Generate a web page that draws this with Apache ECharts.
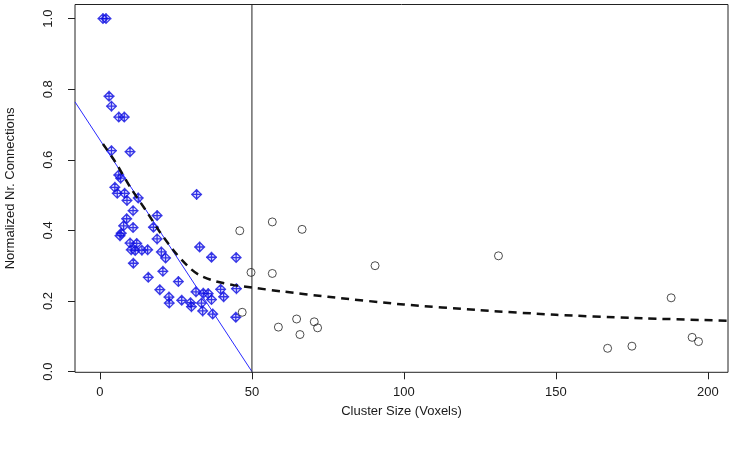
<!DOCTYPE html>
<html>
<head>
<meta charset="utf-8">
<script src="https://cdn.jsdelivr.net/npm/echarts@6/dist/echarts.min.js"></script>
<style>html,body{margin:0;padding:0;background:#fff;}#c{width:734px;height:452px;}</style>
</head>
<body>
<div id="c"></div>
<script>
// ---- data ----
const xTicks = [0, 50, 100, 150, 200];
const yTicks = [0.0, 0.2, 0.4, 0.6, 0.8, 1.0];
const xTitle = 'Cluster Size (Voxels)';
const yTitle = 'Normalized Nr. Connections';

// small clusters (blue diamond-plus markers)
const smallClusters = [
  [1, 1.0], [2, 1.0],
  [3.0, 0.78], [3.8, 0.752], [6.2, 0.721], [8.0, 0.721],
  [3.8, 0.626], [9.9, 0.623],
  [6.2, 0.557], [6.8, 0.548],
  [4.9, 0.522], [5.7, 0.505], [8.1, 0.505], [8.9, 0.485], [12.6, 0.492],
  [10.9, 0.456], [18.8, 0.442], [8.8, 0.433],
  [7.8, 0.413], [10.9, 0.408], [7.0, 0.392], [6.6, 0.385],
  [17.6, 0.409], [18.8, 0.376],
  [9.9, 0.364], [12.1, 0.363],
  [10.3, 0.345], [11.6, 0.343], [13.8, 0.344], [15.7, 0.345],
  [20.2, 0.339], [21.6, 0.322],
  [11.0, 0.307],
  [20.7, 0.284], [15.9, 0.267], [25.8, 0.255],
  [19.7, 0.232], [22.7, 0.211], [22.8, 0.194],
  [26.9, 0.202], [29.8, 0.195], [30.1, 0.184],
  [31.8, 0.502], [32.8, 0.353],
  [36.7, 0.324], [44.8, 0.323],
  [31.6, 0.226], [34.0, 0.222], [35.6, 0.221], [39.7, 0.233], [40.7, 0.212], [44.9, 0.235],
  [36.7, 0.204], [33.4, 0.194], [33.8, 0.172], [37.1, 0.163],
  [44.7, 0.154]
];

// large clusters (open circles)
const largeClusters = [
  [46.0, 0.399], [56.7, 0.424], [66.5, 0.403], [49.7, 0.281], [56.7, 0.278],
  [46.8, 0.168], [58.7, 0.126], [64.7, 0.149], [65.8, 0.105], [70.5, 0.141],
  [71.6, 0.124], [90.5, 0.300], [131.1, 0.328], [187.9, 0.209], [167.0, 0.066],
  [175.0, 0.072], [194.8, 0.097], [196.9, 0.085]
];

// blue linear fit line (ends)
const linearFit = [[-8.2, 0.764], [50, 0.0]];
// vertical threshold line
const threshold = [[50, -0.01], [50, 1.05]];
// dashed fitted curve
const curveX = [1, 5, 10, 15, 20, 25, 30, 33, 38, 44, 50, 60, 75, 100, 125, 150, 175, 207];
const curveY = [0.645, 0.595, 0.522, 0.458, 0.392, 0.335, 0.29, 0.272, 0.256, 0.245, 0.238, 0.227, 0.212, 0.19, 0.174, 0.161, 0.152, 0.144];

// ---- chart ----
const textColor = '#1a1a1a';
const font = 'Liberation Sans, Arial, sans-serif';
const chart = echarts.init(document.getElementById('c'), null, {renderer: 'canvas'});
chart.setOption({
  backgroundColor: '#ffffff',
  animation: false,
  grid: {left: 75, right: 6, top: 4.5, bottom: 79.7, containLabel: false, outerBoundsMode: 'none',
    show: true, borderColor: '#222', borderWidth: 1, backgroundColor: 'transparent'},
  xAxis: {
    type: 'value', min: -8.2, max: 206.6,
    axisLine: {show: false, onZero: false},
    splitLine: {show: false},
    axisTick: {show: true, inside: false, length: 7, customValues: xTicks, lineStyle: {color: '#222'}},
    axisLabel: {customValues: xTicks, margin: 14, color: textColor, fontSize: 13, fontFamily: font},
    name: xTitle, nameLocation: 'middle', nameGap: 33,
    nameTextStyle: {color: textColor, fontSize: 13, fontFamily: font}
  },
  yAxis: {
    type: 'value', min: -0.002, max: 1.04,
    axisLine: {show: false, onZero: false},
    splitLine: {show: false},
    axisTick: {show: true, inside: false, length: 7, customValues: yTicks, lineStyle: {color: '#222'}},
    axisLabel: {customValues: yTicks, margin: 20, rotate: 90, align: 'center', verticalAlign: 'bottom',
      color: textColor, fontSize: 13, fontFamily: font, formatter: v => v.toFixed(1)},
    name: yTitle, nameLocation: 'middle', nameGap: 58, nameRotate: 90,
    nameTextStyle: {color: textColor, fontSize: 13, fontFamily: font}
  },
  series: [
    {
      type: 'scatter', data: smallClusters, symbolSize: 11,
      symbol: 'path://M0,-1 L1,0 L0,1 L-1,0 Z M0,-1.15 L0,1.15 M-1.15,0 L1.15,0',
      itemStyle: {color: 'rgba(90,90,255,0.25)', borderColor: '#0a0ae0', borderWidth: 1.3},
      z: 3
    },
    {
      type: 'scatter', data: largeClusters, symbol: 'circle', symbolSize: 8,
      itemStyle: {color: 'rgba(0,0,0,0)', borderColor: '#222', borderWidth: 1},
      z: 3
    },
    {
      type: 'line', data: linearFit, showSymbol: false, symbol: 'none',
      lineStyle: {color: '#2a2aff', width: 1}, z: 4
    },
    {
      type: 'line', data: threshold, showSymbol: false, symbol: 'none',
      lineStyle: {color: '#222', width: 1}, z: 4
    },
    {
      type: 'line', data: curveX.map((x, i) => [x, curveY[i]]), showSymbol: false, symbol: 'none',
      smooth: 0.25,
      lineStyle: {color: '#111', width: 2.5, type: [8, 6]}, z: 5
    }
  ]
});
</script>
</body>
</html>
